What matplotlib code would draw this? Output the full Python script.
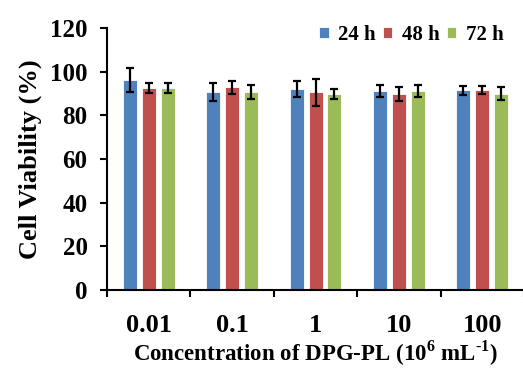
import numpy as np
import matplotlib
matplotlib.use("Agg")
from matplotlib import pyplot as plt

concs = ["0.01", "0.1", "1", "10", "100"]
v24 = [96.3, 90.8, 92.1, 91.2, 91.5]
e24 = [5.5, 4.0, 3.6, 2.8, 2.0]
v48 = [92.4, 92.8, 90.5, 90.0, 91.6]
e48 = [2.2, 2.9, 6.3, 3.2, 1.8]
v72 = [92.7, 90.5, 89.7, 91.2, 90.0]
e72 = [2.3, 3.2, 2.2, 2.6, 2.8]
labels = ["24 h", "48 h", "72 h"]
colors = ["#4F81BD", "#C0504D", "#9BBB59"]

plt.rcParams["font.family"] = ["Liberation Serif", "DejaVu Serif"]
plt.rcParams["font.weight"] = "bold"
plt.rcParams["mathtext.fontset"] = "custom"
plt.rcParams["mathtext.rm"] = "Liberation Serif:bold"
plt.rcParams["mathtext.bf"] = "Liberation Serif:bold"

fig = plt.figure(figsize=(5.23, 3.69), dpi=100)
ax = fig.add_axes([0.2046, 0.214, 0.7975, 0.71])

x = np.arange(len(concs))
w = 0.168
step = 0.227
for i, (vals, errs) in enumerate([(v24, e24), (v48, e48), (v72, e72)]):
    ax.bar(x + (i - 1) * step, vals, w, color=colors[i], edgecolor="white",
           linewidth=0.6, label=labels[i],
           yerr=errs, capsize=3.2,
           error_kw=dict(ecolor="black", elinewidth=1.6, capthick=1.6))

ax.set_xlim(-0.5, len(concs) - 0.5)
ax.set_ylim(0, 120)
ax.set_yticks(range(0, 121, 20))
ax.set_xticks(x)
ax.set_xticklabels(concs)
ax.set_xticks(np.arange(-0.5, len(concs), 1), minor=True)
ax.tick_params(axis="x", which="major", length=0, pad=17, labelsize=19)
ax.tick_params(axis="x", which="minor", length=5, width=1.5, direction="out")
ax.tick_params(axis="y", length=5, width=1.5, direction="out", labelsize=18, pad=9)
for s in ["top", "right"]:
    ax.spines[s].set_visible(False)
for s in ["left", "bottom"]:
    ax.spines[s].set_linewidth(1.5)

ax.set_ylabel("Cell Viability (%)", fontsize=19, fontweight="bold", labelpad=6)
ax.set_xlabel("Concentration of DPG-PL (10$^{6}$ mL$^{\\text{-1}}$)", fontsize=16.5,
              fontweight="bold", labelpad=1)

leg = ax.legend(loc="upper right", bbox_to_anchor=(0.995, 1.085), ncol=3,
                frameon=False, fontsize=15, handlelength=0.45, handleheight=0.45,
                handletextpad=0.45, columnspacing=0.35)

fig.savefig("out.png", dpi=100)
